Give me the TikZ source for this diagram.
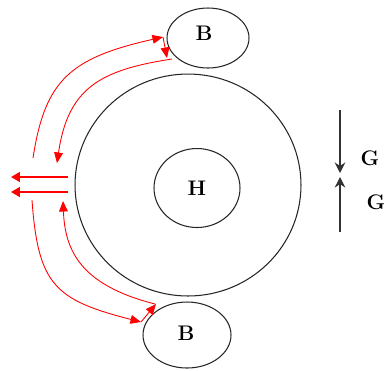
\documentclass[tikz,border=0pt]{standalone}
\usetikzlibrary{arrows.meta,shapes.geometric}
\begin{document}
\begin{tikzpicture}[x=0.02cm,y=-0.02cm,
  ring/.style={draw=black!85,line width=0.6pt,ellipse,inner sep=0pt},
  lbl/.style={font=\fontsize{12}{14}\selectfont\bfseries},
  flow/.style={draw=red,line width=0.5pt,-{Triangle[length=6pt,width=5pt]}},
  big/.style={draw=red,line width=1.1pt,-{Triangle[length=5pt,width=5.5pt]}},
  gap/.style={draw=black!80,line width=0.6pt,-{Stealth[length=6pt,width=6pt]}}]
\useasboundingbox (0,0) rectangle (384,370);
\node[ring,minimum width=4.52cm,minimum height=4.44cm] (outer) at (188,185) {};
\node[ring,minimum width=1.72cm,minimum height=1.58cm] (H) at (197,188) {};
\node[lbl] at (H) {H};
\node[ring,minimum width=1.64cm,minimum height=1.2cm] (Bt) at (208,38) {};
\node[lbl] at (204,33) {B};
\node[ring,minimum width=1.76cm,minimum height=1.32cm] (Bb) at (187,335) {};
\node[lbl] at (186,333) {B};
% gap arrows
\coordinate (g1s) at (340,110);
\coordinate (g1e) at (340,173);
\coordinate (g2s) at (340,232);
\coordinate (g2e) at (340,177);
\draw[gap] (g1s) -- (g1e);
\draw[gap] (g2s) -- (g2e);
\node[lbl] (G1) at (370,158) {G};
\node[lbl] (G2) at (376,202) {G};
% horizontal arrows
\coordinate (h1s) at (68,177);
\coordinate (h1e) at (11,177);
\coordinate (h2s) at (68,192);
\coordinate (h2e) at (11,192);
\draw[big] (h1s) -- (h1e);
\draw[big] (h2s) -- (h2e);
% top curves
\coordinate (to1) at (33,158);
\coordinate (to2) at (163,37);
\coordinate (ts2) at (167,58);
\coordinate (ti1) at (172,59);
\coordinate (ti2) at (57,163);
\draw[flow] (to1) .. controls (45,80) and (70,58) .. (to2);
\draw[flow] (to2) -- (ts2);
\draw[flow] (ti1) .. controls (100,70) and (68,88) .. (ti2);
% bottom curves
\coordinate (bo1) at (32,200);
\coordinate (bo2) at (141,322);
\coordinate (bs2) at (156,304);
\coordinate (bi1) at (155,304);
\coordinate (bi2) at (63,201);
\draw[flow] (bo1) .. controls (38,285) and (55,300) .. (bo2);
\draw[flow] (bo2) -- (bs2);
\draw[flow] (bi1) .. controls (80,285) and (65,250) .. (bi2);
\end{tikzpicture}
\end{document}
